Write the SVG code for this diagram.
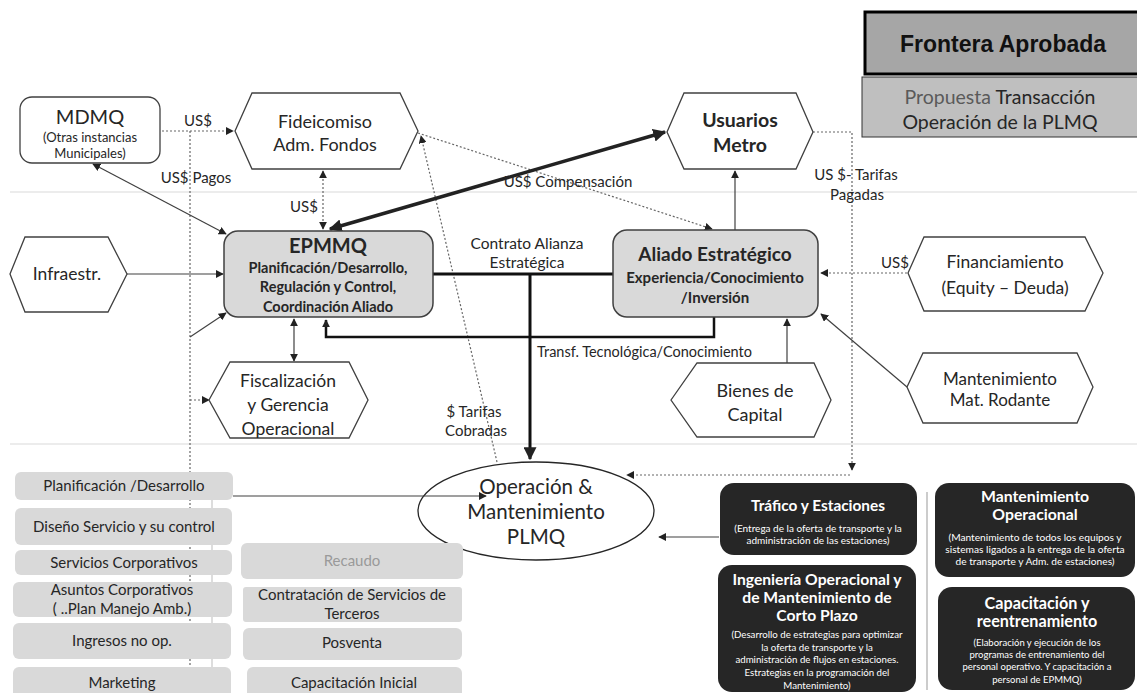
<svg xmlns="http://www.w3.org/2000/svg" width="1137" height="693" viewBox="0 0 1137 693">
<style>
text{font-family:Lato,"Open Sans","Liberation Sans",sans-serif;fill:#262626}
.hex{fill:#fff;stroke:#404040;stroke-width:1.3}
.main{fill:#d9d9d9;stroke:#404040;stroke-width:1.5}
.gbox{fill:#d9d9d9}
.blk{fill:#262626}
.wt{fill:#fff;text-anchor:middle}
.c{text-anchor:middle}
.thin{stroke:#404040;stroke-width:1.2;fill:none}
.dot{stroke:#666;stroke-width:1.2;stroke-dasharray:2 2;fill:none}
.thick{stroke:#111;stroke-width:3;fill:none}
.sep{stroke:#ececec;stroke-width:2}
.lbl{font-size:15px}
</style>
<defs>
<marker id="a" viewBox="0 0 10 10" refX="9" refY="5" markerWidth="8" markerHeight="8" markerUnits="userSpaceOnUse" orient="auto-start-reverse"><path d="M0,0 L10,5 L0,10 z" fill="#222"/></marker>
<marker id="ab" viewBox="0 0 10 10" refX="9" refY="5" markerWidth="13" markerHeight="13" markerUnits="userSpaceOnUse" orient="auto-start-reverse"><path d="M0,0 L10,5 L0,10 z" fill="#222"/></marker>
</defs>
<rect width="1137" height="693" fill="#fff"/>
<line class="sep" x1="10" y1="192" x2="1137" y2="192"/>
<line class="sep" x1="10" y1="444" x2="1137" y2="444"/>

<g id="legend">
<rect x="865" y="12" width="280" height="62" fill="#a6a6a6" stroke="#000" stroke-width="3"/>
<text x="1003" y="52" class="c" style="font-family:'Liberation Sans',Arial,sans-serif;font-weight:bold;font-size:23px;fill:#111">Frontera Aprobada</text>
<rect x="862" y="77" width="280" height="60" fill="#bfbfbf" stroke="#333" stroke-width="1"/>
<text x="1000" y="104" class="c" style="font-size:19.5px"><tspan fill="#5a5a5a">Propuesta</tspan> Transacción</text>
<text x="1000" y="129" class="c" style="font-size:19.5px">Operación de la PLMQ</text>
</g>

<g id="operacion">
<ellipse cx="536" cy="511" rx="118" ry="49" fill="#fff" stroke="#262626" stroke-width="1.3"/>
<text x="536" y="494" class="c" style="font-size:20.5px">Operación &amp;</text>
<text x="536" y="519" class="c" style="font-size:20.5px">Mantenimiento</text>
<text x="536" y="544" class="c" style="font-size:20.5px">PLMQ</text>
</g>

<g id="connectors">
<line class="dot" x1="190" y1="131" x2="190" y2="693"/>
<line x1="212" y1="490" x2="212" y2="693" stroke="#bbb" stroke-width="1"/>
<line class="dot" x1="162" y1="131" x2="233" y2="131" marker-end="url(#a)"/>
<line class="dot" x1="323" y1="171" x2="323" y2="229" marker-start="url(#a)" marker-end="url(#a)"/>
<line class="dot" x1="418" y1="133" x2="712" y2="229" marker-end="url(#a)"/>
<line class="dot" x1="497" y1="462" x2="421" y2="136" marker-end="url(#a)"/>
<polyline class="dot" points="813,132 852,132 852,470" marker-end="url(#a)"/>
<line class="dot" x1="850" y1="475" x2="627" y2="475" marker-end="url(#a)"/>
<line class="dot" x1="907" y1="273" x2="821" y2="273" marker-end="url(#a)"/>
<line class="dot" x1="190" y1="400" x2="209" y2="400" marker-end="url(#a)"/>
<line x1="330" y1="229" x2="665" y2="132" stroke="#222" stroke-width="3.5" marker-start="url(#ab)" marker-end="url(#ab)"/>
<line class="thin" x1="93" y1="164" x2="226" y2="234" marker-start="url(#a)" marker-end="url(#a)"/>
<line class="thin" x1="190" y1="337" x2="226" y2="313" marker-end="url(#a)"/>
<line class="thin" x1="127" y1="274" x2="223" y2="274" marker-end="url(#a)"/>
<line class="thin" x1="294" y1="319" x2="294" y2="361" marker-start="url(#a)" marker-end="url(#a)"/>
<line class="thin" x1="735" y1="230" x2="735" y2="171" marker-end="url(#a)"/>
<line class="thin" x1="787" y1="363" x2="787" y2="319" marker-end="url(#a)"/>
<line class="thin" x1="907" y1="387" x2="821" y2="314" marker-end="url(#a)"/>
<line class="thin" x1="233" y1="496" x2="486" y2="496" marker-end="url(#a)"/>
<line class="thin" x1="719" y1="537" x2="659" y2="537" marker-end="url(#a)"/>
<line class="thick" x1="433" y1="274" x2="613" y2="274"/>
<line class="thick" x1="530" y1="274" x2="530" y2="459" marker-end="url(#ab)"/>
<polyline points="714,317 714,337 326,337 326,320" stroke="#111" stroke-width="2.5" fill="none" marker-end="url(#a)"/>
<line x1="927" y1="492" x2="927" y2="690" stroke="#999" stroke-width="1"/>
<text x="198" y="126" class="lbl c">US$</text>
<text x="196" y="183" class="lbl c">US$ Pagos</text>
<text x="304" y="212" class="lbl c">US$</text>
<text x="568" y="187" class="lbl c">US$ Compensación</text>
<text x="527" y="249" class="c" style="font-size:15.5px">Contrato Alianza</text>
<text x="527" y="268" class="c" style="font-size:15.5px">Estratégica</text>
<text x="537" y="357" style="font-size:14.5px">Transf. Tecnológica/Conocimiento</text>
<text x="474" y="417" class="lbl c">$ Tarifas</text>
<text x="476" y="436" class="lbl c">Cobradas</text>
<text x="856" y="180" class="lbl c">US $- Tarifas</text>
<text x="857" y="200" class="lbl c">Pagadas</text>
<text x="895" y="268" class="lbl c">US$</text>
</g>

<g id="mdmq">
<rect x="20" y="97" width="140" height="66" rx="12" fill="#fff" stroke="#404040" stroke-width="1.3"/>
<text x="90" y="124" class="c" style="font-size:20px">MDMQ</text>
<text x="90" y="142" class="c" style="font-size:13px">(Otras instancias</text>
<text x="90" y="158" class="c" style="font-size:13px">Municipales)</text>
</g>
<g id="fideicomiso">
<polygon class="hex" points="235,131 252,93 400,93 418,131 400,169 252,169"/>
<text x="325" y="128" class="c" style="font-size:18px">Fideicomiso</text>
<text x="325" y="151" class="c" style="font-size:18px">Adm. Fondos</text>
</g>
<g id="usuarios">
<polygon class="hex" points="667,132 684,93 796,93 813,132 796,169 684,169"/>
<text x="740" y="127" class="c" style="font-size:19.5px;font-weight:bold">Usuarios</text>
<text x="740" y="152" class="c" style="font-size:19.5px;font-weight:bold">Metro</text>
</g>
<g id="infraestr">
<polygon class="hex" points="10,274 25,237 108,237 127,274 108,312 25,312"/>
<text x="67" y="280" class="c" style="font-size:17.5px">Infraestr.</text>
</g>
<g id="epmmq">
<rect class="main" x="224" y="231" width="209" height="86" rx="14"/>
<text x="328" y="253" class="c" style="font-size:20px;font-weight:bold">EPMMQ</text>
<text x="328" y="273" class="c" style="font-size:14.5px;font-weight:bold">Planificación/Desarrollo,</text>
<text x="328" y="292" class="c" style="font-size:14.5px;font-weight:bold">Regulación y Control,</text>
<text x="328" y="312" class="c" style="font-size:14.5px;font-weight:bold">Coordinación Aliado</text>
</g>
<g id="aliado">
<rect class="main" x="613" y="230" width="205" height="87" rx="14"/>
<text x="715" y="261" class="c" style="font-size:19px;font-weight:bold">Aliado Estratégico</text>
<text x="715" y="283" class="c" style="font-size:15px;font-weight:bold">Experiencia/Conocimiento</text>
<text x="715" y="303" class="c" style="font-size:15px;font-weight:bold">/Inversión</text>
</g>
<g id="financiamiento">
<polygon class="hex" points="908,273 924,237 1085,237 1103,273 1085,311 924,311"/>
<text x="1005" y="268" class="c" style="font-size:17.5px">Financiamiento</text>
<text x="1005" y="294" class="c" style="font-size:17.5px">(Equity – Deuda)</text>
</g>
<g id="fiscalizacion">
<polygon class="hex" points="209,400 230,362 349,362 368,400 349,438 230,438"/>
<text x="288" y="387" class="c" style="font-size:17.5px">Fiscalización</text>
<text x="288" y="411" class="c" style="font-size:17.5px">y Gerencia</text>
<text x="288" y="435" class="c" style="font-size:17.5px">Operacional</text>
</g>
<g id="bienes">
<polygon class="hex" points="671,400 697,363 814,363 831,400 814,437 697,437"/>
<text x="755" y="397" class="c" style="font-size:18px">Bienes de</text>
<text x="755" y="421" class="c" style="font-size:18px">Capital</text>
</g>
<g id="matrodante">
<polygon class="hex" points="907,387 923,353 1077,353 1093,387 1077,423 923,423"/>
<text x="1000" y="385" class="c" style="font-size:17px">Mantenimiento</text>
<text x="1000" y="406" class="c" style="font-size:17px">Mat. Rodante</text>
</g>

<g id="left-boxes" style="font-size:15px">
<g id="b-planificacion"><rect class="gbox" x="15" y="472" width="218" height="28" rx="6"/><text x="124" y="491" class="c">Planificación /Desarrollo</text></g>
<g id="b-diseno"><rect class="gbox" x="15" y="508" width="217" height="37" rx="6"/><text x="124" y="532" class="c">Diseño Servicio y su control</text></g>
<g id="b-servicios"><rect class="gbox" x="15" y="550" width="217" height="25" rx="6"/><text x="124" y="568" class="c">Servicios Corporativos</text></g>
<g id="b-asuntos"><rect class="gbox" x="13" y="582" width="219" height="35" rx="6"/><text x="122" y="595" class="c">Asuntos Corporativos</text><text x="122" y="614" class="c">( ..Plan Manejo Amb.)</text></g>
<g id="b-ingresos"><rect class="gbox" x="13" y="623" width="218" height="36" rx="6"/><text x="122" y="646" class="c">Ingresos no op.</text></g>
<g id="b-marketing"><rect class="gbox" x="13" y="667" width="218" height="32" rx="6"/><text x="122" y="688" class="c">Marketing</text></g>
<g id="b-recaudo"><rect class="gbox" x="241" y="543" width="222" height="36" rx="6"/><text x="352" y="566" class="c" style="fill:#9a9a9a">Recaudo</text></g>
<g id="b-contratacion"><rect class="gbox" x="243" y="587" width="219" height="35" rx="3"/><text x="352" y="600" class="c">Contratación de Servicios de</text><text x="352" y="619" class="c">Terceros</text></g>
<g id="b-posventa"><rect class="gbox" x="243" y="628" width="219" height="32" rx="6"/><text x="352" y="648" class="c">Posventa</text></g>
<g id="b-capinicial"><rect class="gbox" x="247" y="667" width="215" height="32" rx="6"/><text x="354" y="688" class="c">Capacitación Inicial</text></g>
</g>

<g id="trafico">
<rect class="blk" x="720" y="483" width="197" height="72" rx="14"/>
<text x="818" y="511" class="wt" style="font-size:15.4px;font-weight:bold">Tráfico y Estaciones</text>
<text x="818" y="532" class="wt" style="font-size:10px">(Entrega de la oferta de transporte y la</text>
<text x="818" y="544" class="wt" style="font-size:10px">administración de las estaciones)</text>
</g>
<g id="ingenieria">
<rect class="blk" x="718" y="565" width="198" height="127" rx="14"/>
<text x="817" y="585" class="wt" style="font-size:15.7px;font-weight:bold">Ingeniería Operacional y</text>
<text x="817" y="603" class="wt" style="font-size:15.7px;font-weight:bold">de Mantenimiento de</text>
<text x="817" y="621" class="wt" style="font-size:15.7px;font-weight:bold">Corto Plazo</text>
<text x="817" y="638" class="wt" style="font-size:9.7px">(Desarrollo de estrategias para optimizar</text>
<text x="817" y="651" class="wt" style="font-size:9.7px">la oferta de transporte y la</text>
<text x="817" y="663" class="wt" style="font-size:9.7px">administración de flujos en estaciones.</text>
<text x="817" y="676" class="wt" style="font-size:9.7px">Estrategias en la programación del</text>
<text x="817" y="689" class="wt" style="font-size:9.7px">Mantenimiento)</text>
</g>
<g id="mantop">
<rect class="blk" x="935" y="483" width="200" height="94" rx="14"/>
<text x="1035" y="502" class="wt" style="font-size:15.8px;font-weight:bold">Mantenimiento</text>
<text x="1035" y="520" class="wt" style="font-size:15.8px;font-weight:bold">Operacional</text>
<text x="1035" y="541" class="wt" style="font-size:10.2px">(Mantenimiento de todos los equipos y</text>
<text x="1035" y="553" class="wt" style="font-size:10.2px">sistemas ligados a la entrega de la oferta</text>
<text x="1035" y="565" class="wt" style="font-size:10.2px">de transporte y Adm. de estaciones)</text>
</g>
<g id="capacitacion">
<rect class="blk" x="938" y="587" width="197" height="103" rx="14"/>
<text x="1037" y="609" class="wt" style="font-size:16.2px;font-weight:bold">Capacitación y</text>
<text x="1037" y="627" class="wt" style="font-size:16.2px;font-weight:bold">reentrenamiento</text>
<text x="1037" y="646" class="wt" style="font-size:9.5px">(Elaboración y ejecución de los</text>
<text x="1037" y="658" class="wt" style="font-size:9.5px">programas de entrenamiento del</text>
<text x="1037" y="670" class="wt" style="font-size:9.5px">personal operativo.  Y capacitación a</text>
<text x="1037" y="683" class="wt" style="font-size:9.5px">personal de EPMMQ)</text>
</g>
</svg>
